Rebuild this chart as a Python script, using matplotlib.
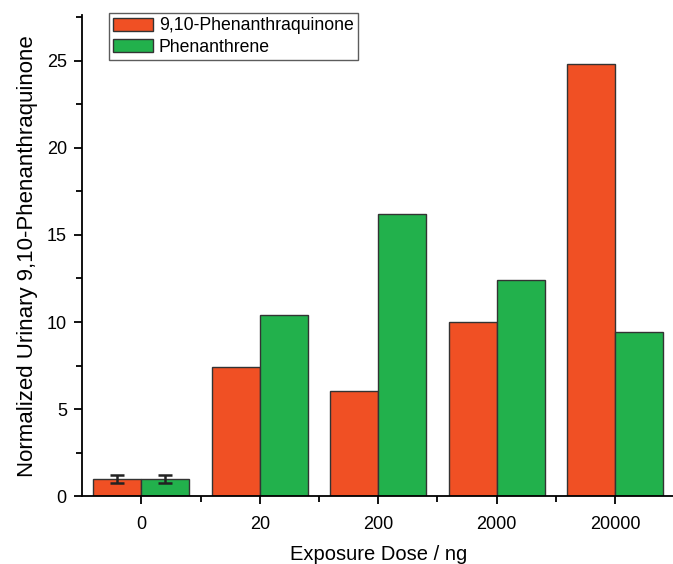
import numpy as np
import matplotlib
matplotlib.use('Agg')
from matplotlib import pyplot as plt
from matplotlib.ticker import MultipleLocator, FixedLocator

# data
doses = ['0', '20', '200', '2000', '20000']
pq_vals = [1.0, 7.4, 6.05, 10.0, 24.8]       # 9,10-Phenanthraquinone
phe_vals = [1.0, 10.4, 16.2, 12.4, 9.4]      # Phenanthrene
pq_err = [0.25, 0, 0, 0, 0]
phe_err = [0.25, 0, 0, 0, 0]

plt.rcParams['font.family'] = ['Liberation Sans', 'DejaVu Sans']

fig = plt.figure(figsize=(6.73, 5.64), dpi=100)
ax = fig.add_axes([0.122, 0.12, 0.88, 0.853])

x = np.arange(len(doses))
w = 0.405
red = '#F05024'
green = '#22B14C'
ax.bar(x - w/2, pq_vals, w, color=red, edgecolor='#333333', linewidth=1,
       label='9,10-Phenanthraquinone')
ax.bar(x + w/2, phe_vals, w, color=green, edgecolor='#333333', linewidth=1,
       label='Phenanthrene')
ax.errorbar(x[:1] - w/2, pq_vals[:1], yerr=pq_err[:1], fmt='none', ecolor='#222222',
            elinewidth=1.8, capsize=5, capthick=1.8)
ax.errorbar(x[:1] + w/2, phe_vals[:1], yerr=phe_err[:1], fmt='none', ecolor='#222222',
            elinewidth=1.8, capsize=5, capthick=1.8)

ax.set_xlim(-0.5, 4.5)
ax.set_ylim(0, 27.6)
ax.set_xticks(x)
ax.set_xticklabels(doses)
ax.xaxis.set_minor_locator(FixedLocator(x[:-1] + 0.5))
ax.yaxis.set_major_locator(MultipleLocator(5))
ax.yaxis.set_minor_locator(MultipleLocator(2.5))

for s in ['top', 'right']:
    ax.spines[s].set_visible(False)
for s in ['left', 'bottom']:
    ax.spines[s].set_linewidth(1.3)
ax.tick_params(which='major', direction='out', length=6, width=1.3, labelsize=13, pad=5)
ax.tick_params(which='major', axis='x', pad=8)
ax.tick_params(which='minor', direction='out', length=4, width=1.3)

ax.set_xlabel('Exposure Dose / ng', fontsize=14.5, labelpad=9)
ax.set_ylabel('Normalized Urinary 9,10-Phenanthraquinone', fontsize=16, labelpad=6)

leg = ax.legend(loc='upper left', bbox_to_anchor=(109/673, 1 - 13/564),
                bbox_transform=fig.transFigure, fontsize=12.7,
                frameon=True, fancybox=False, edgecolor='#333333',
                handlelength=2.27, handleheight=0.8, borderpad=0.25,
                labelspacing=0.25, handletextpad=0.3, borderaxespad=0)
leg.get_frame().set_linewidth(1)

plt.savefig('out.png', dpi=100)
